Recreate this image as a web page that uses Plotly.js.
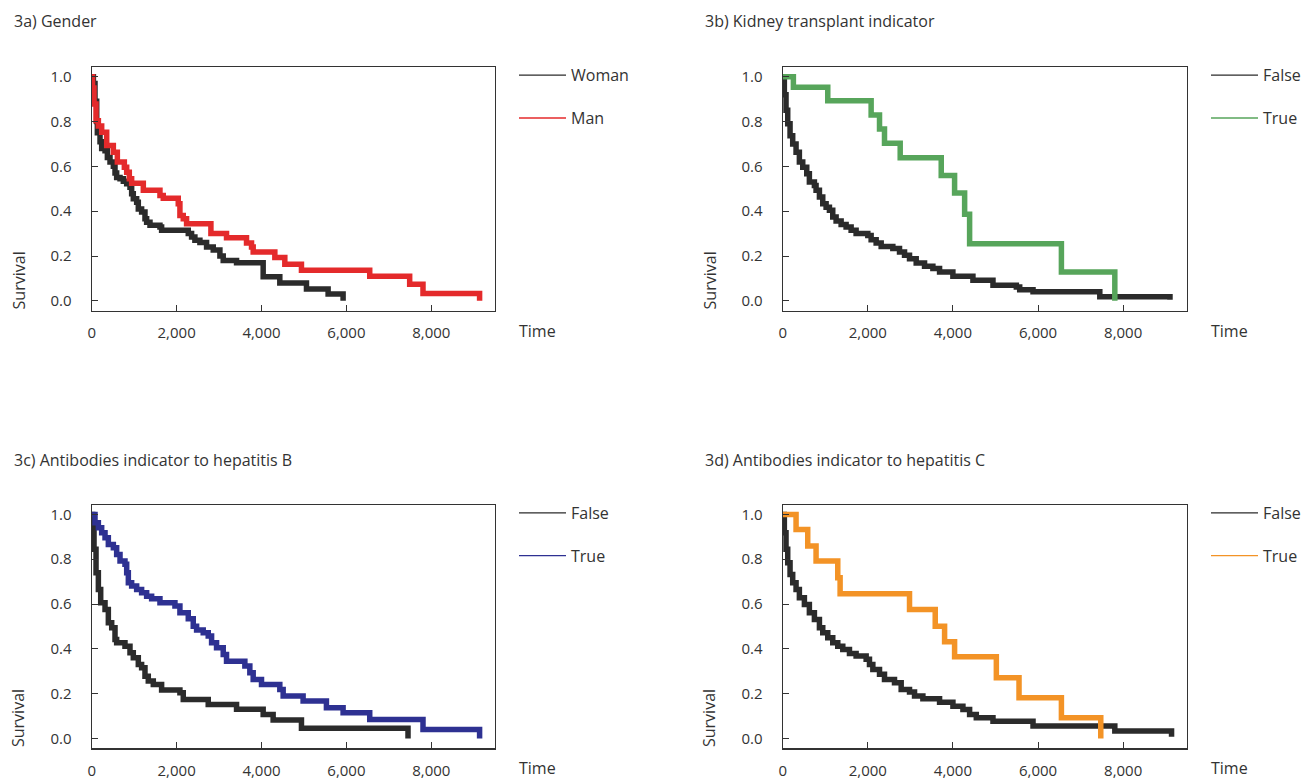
<!DOCTYPE html>
<html><head><meta charset="utf-8">
<script src="https://cdn.plot.ly/plotly-3.0.1.min.js"></script>
<style>html,body{margin:0;padding:0;background:#fff}#chart{width:1301px;height:778px}</style>
</head><body><div id="chart"></div>
<script>
// Panel titles and series names
const panelTitles = ["3a) Gender", "3b) Kidney transplant indicator", "3c) Antibodies indicator to hepatitis B", "3d) Antibodies indicator to hepatitis C"];
const seriesNames = [["Woman", "Man"], ["False", "True"], ["False", "True"], ["False", "True"]];
const xTickVals = [0, 2000, 4000, 6000, 8000];
const yTickVals = [0, 0.2, 0.4, 0.6, 0.8, 1.0];

// 3a) Gender
const aWomanT = [0, 40, 78, 118, 133, 196, 235, 314, 369, 431, 510, 549, 588, 667, 745, 824, 902, 941, 980, 1059, 1098, 1176, 1255, 1294, 1373, 1608, 1647, 2275, 2353, 2431, 2549, 2706, 2863, 3020, 3098, 3412, 4039, 4431, 5059, 5569, 5922];
const aWomanS = [1.0, 0.97, 0.89, 0.80, 0.75, 0.71, 0.68, 0.67, 0.64, 0.62, 0.60, 0.57, 0.55, 0.545, 0.534, 0.522, 0.507, 0.478, 0.455, 0.44, 0.41, 0.396, 0.366, 0.351, 0.337, 0.329, 0.315, 0.30, 0.285, 0.27, 0.26, 0.24, 0.227, 0.20, 0.18, 0.17, 0.107, 0.08, 0.053, 0.03, 0.0];
const aManT = [0, 20, 55, 102, 157, 235, 353, 510, 604, 769, 824, 886, 941, 1216, 1608, 1686, 2039, 2078, 2157, 2235, 2808, 3176, 3647, 3765, 3804, 4314, 4549, 4941, 6549, 7490, 7804, 9137];
const aManS = [1.0, 0.95, 0.878, 0.804, 0.78, 0.752, 0.693, 0.663, 0.619, 0.596, 0.574, 0.545, 0.525, 0.493, 0.47, 0.458, 0.433, 0.381, 0.366, 0.344, 0.30, 0.282, 0.258, 0.24, 0.218, 0.193, 0.163, 0.136, 0.11, 0.074, 0.033, 0.0];

// 3b) Kidney transplant indicator
const bFalseT = [0, 39, 78, 118, 173, 235, 314, 392, 471, 565, 627, 745, 784, 863, 941, 1020, 1098, 1176, 1255, 1373, 1490, 1608, 1725, 2000, 2078, 2196, 2314, 2588, 2745, 2863, 2980, 3137, 3333, 3529, 3686, 3999, 4470, 4941, 5490, 5569, 5882, 7451, 9100];
const bFalseS = [1.0, 0.92, 0.85, 0.79, 0.737, 0.70, 0.663, 0.619, 0.596, 0.567, 0.53, 0.515, 0.493, 0.463, 0.433, 0.418, 0.404, 0.374, 0.356, 0.341, 0.329, 0.315, 0.30, 0.292, 0.273, 0.258, 0.243, 0.233, 0.218, 0.203, 0.188, 0.169, 0.154, 0.144, 0.129, 0.11, 0.092, 0.07, 0.062, 0.05, 0.04, 0.018, 0.005];
const bTrueT = [0, 251, 1059, 2078, 2275, 2392, 2761, 3725, 4039, 4275, 4392, 6549, 7804];
const bTrueS = [1.0, 0.953, 0.893, 0.829, 0.767, 0.703, 0.638, 0.559, 0.481, 0.386, 0.255, 0.129, 0.0];

// 3c) Antibodies indicator to hepatitis B
const cFalseT = [0, 24, 55, 102, 157, 212, 314, 392, 471, 549, 588, 784, 902, 980, 1098, 1176, 1255, 1333, 1451, 1647, 2078, 2157, 2745, 3412, 4039, 4274, 4941, 7451];
const cFalseS = [1.0, 0.948, 0.844, 0.74, 0.665, 0.606, 0.576, 0.516, 0.494, 0.442, 0.427, 0.412, 0.382, 0.36, 0.33, 0.315, 0.278, 0.256, 0.241, 0.216, 0.204, 0.174, 0.152, 0.13, 0.107, 0.082, 0.045, 0.0];
const cTrueT = [0, 78, 157, 235, 314, 392, 510, 588, 667, 784, 824, 863, 941, 1059, 1176, 1294, 1412, 1608, 1961, 2078, 2275, 2392, 2471, 2627, 2745, 2824, 2941, 3098, 3176, 3608, 3725, 3804, 4000, 4431, 4510, 4980, 5529, 5922, 6549, 7804, 9137];
const cTrueS = [1.0, 0.963, 0.94, 0.918, 0.896, 0.866, 0.851, 0.821, 0.792, 0.777, 0.74, 0.695, 0.68, 0.665, 0.65, 0.635, 0.624, 0.606, 0.591, 0.561, 0.534, 0.501, 0.484, 0.472, 0.457, 0.427, 0.405, 0.375, 0.345, 0.323, 0.293, 0.263, 0.241, 0.219, 0.189, 0.167, 0.137, 0.115, 0.085, 0.04, 0.0];

// 3d) Antibodies indicator to hepatitis C
const dFalseT = [0, 39, 78, 118, 173, 235, 314, 392, 510, 627, 745, 863, 941, 1059, 1176, 1294, 1412, 1569, 1725, 1961, 2039, 2118, 2275, 2392, 2627, 2784, 2980, 3098, 3294, 3686, 4000, 4235, 4392, 4549, 4941, 5882, 7804, 9137];
const dFalseS = [1.0, 0.918, 0.844, 0.784, 0.732, 0.695, 0.665, 0.628, 0.598, 0.561, 0.531, 0.494, 0.472, 0.449, 0.427, 0.412, 0.397, 0.379, 0.368, 0.353, 0.33, 0.308, 0.286, 0.263, 0.249, 0.219, 0.207, 0.189, 0.177, 0.162, 0.144, 0.129, 0.107, 0.092, 0.077, 0.055, 0.033, 0.007];
const dTrueT = [0, 314, 588, 784, 1294, 1349, 2980, 3584, 3804, 4039, 5020, 5553, 6549, 7474];
const dTrueS = [1.0, 0.933, 0.859, 0.792, 0.717, 0.646, 0.576, 0.501, 0.432, 0.365, 0.271, 0.182, 0.092, 0.0];

const W = 1301, H = 778;
const FONT = "Open Sans, Noto Sans, sans-serif";
const TXT = "#333333";
const BLACK = "#2b2b2b";
const seriesColors = [[BLACK, "#e42a2b"], [BLACK, "#57a55b"], [BLACK, "#2e3192"], [BLACK, "#f39326"]];
const seriesData = [
  [[aWomanT, aWomanS], [aManT, aManS]],
  [[bFalseT, bFalseS], [bTrueT, bTrueS]],
  [[cFalseT, cFalseS], [cTrueT, cTrueS]],
  [[dFalseT, dFalseS], [dTrueT, dTrueS]]
];

// pixel geometry of each plot box: [left, right, top, bottom]
const boxes = [[91.7, 495, 67.3, 310.7], [782.7, 1187, 67.3, 310.7], [91.7, 495, 505, 748.3], [782.7, 1187, 505, 748.3]];
const titlePos = [[12, 21], [703, 21], [12, 460], [703, 460]];

const traces = [];
const layout = {
  width: W, height: H,
  margin: {l: 0, r: 0, t: 0, b: 0, autoexpand: false},
  paper_bgcolor: "#ffffff", plot_bgcolor: "#ffffff",
  font: {family: FONT, size: 16, color: TXT},
  showlegend: true,
  annotations: []
};

for (let p = 0; p < 4; p++) {
  const sfx = p === 0 ? "" : String(p + 1);
  const xa = "x" + sfx, ya = "y" + sfx;
  const legName = "legend" + sfx;
  const b = boxes[p];
  layout["xaxis" + sfx] = {
    domain: [b[0] / W, b[1] / W], anchor: ya,
    range: [0, 9500], tickvals: xTickVals, tickformat: ",d",
    ticks: "inside", ticklen: 6, tickwidth: 1, tickcolor: "#333",
    showline: true, mirror: true, linecolor: "#333", linewidth: 1.2,
    showgrid: false, zeroline: false, fixedrange: true,
    ticklabelstandoff: 8, tickfont: {size: 15, color: TXT}
  };
  layout["yaxis" + sfx] = {
    domain: [1 - b[3] / H, 1 - b[2] / H], anchor: xa,
    range: [-0.044, 1.042], tickvals: yTickVals, tickformat: ".1f",
    ticks: "inside", ticklen: 6, tickwidth: 1, tickcolor: "#333",
    showline: true, mirror: true, linecolor: "#333", linewidth: 1.2,
    showgrid: false, zeroline: false, fixedrange: true,
    ticklabelstandoff: 16, tickfont: {size: 15, color: TXT}
  };
  layout[legName] = {
    x: (b[1] + 19) / W, xanchor: "left",
    y: 1 - (b[2] - 9) / H, yanchor: "top",
    bgcolor: "rgba(0,0,0,0)", borderwidth: 0, itemwidth: 47,
    tracegroupgap: 19, itemclick: false, itemdoubleclick: false,
    font: {size: 16, color: TXT}
  };
  for (let s = 0; s < 2; s++) {
    const d = seriesData[p][s];
    traces.push({
      type: "scatter", mode: "lines", x: d[0], y: d[1], xaxis: xa, yaxis: ya,
      line: {shape: "hv", width: 5.5, color: seriesColors[p][s]},
      name: seriesNames[p][s], showlegend: false, hoverinfo: "skip"
    });
  }
  for (let s = 0; s < 2; s++) {
    traces.push({
      type: "scatter", mode: "lines", x: [null], y: [null], xaxis: xa, yaxis: ya,
      line: {width: 1.3, color: seriesColors[p][s]},
      name: seriesNames[p][s], legend: legName, legendgroup: "g" + p + "_" + s,
      showlegend: true, hoverinfo: "skip"
    });
  }
  layout.annotations.push({
    text: panelTitles[p], xref: "paper", yref: "paper",
    x: titlePos[p][0] / W, y: 1 - titlePos[p][1] / H, xanchor: "left", yanchor: "middle",
    showarrow: false, font: {size: 16, color: TXT}
  });
  layout.annotations.push({
    text: "Time", xref: "paper", yref: "paper",
    x: (b[1] + 42) / W, y: 1 - (b[3] + 20) / H, xanchor: "center", yanchor: "middle",
    showarrow: false, font: {size: 16, color: TXT}, borderpad: 0
  });
  layout.annotations.push({
    text: "Survival", xref: "paper", yref: "paper", textangle: -90,
    x: (b[0] - 73) / W, y: 1 - (b[3] + 1) / H, xanchor: "center", yanchor: "bottom",
    showarrow: false, font: {size: 16, color: TXT}
  });
}

Plotly.newPlot("chart", traces, layout, {displayModeBar: false, staticPlot: true});
</script></body></html>
